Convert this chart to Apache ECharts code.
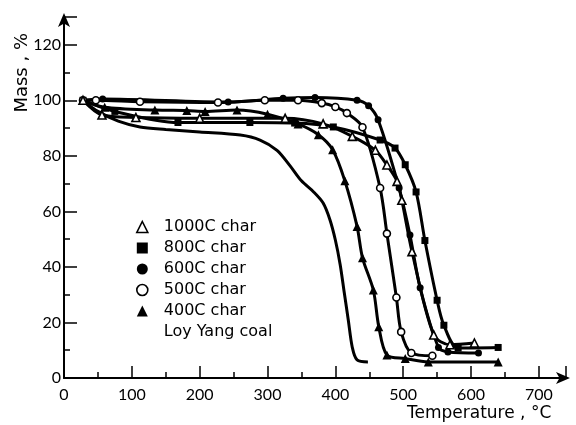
<!DOCTYPE html>
<html>
<head>
<meta charset="utf-8">
<script src="https://cdn.jsdelivr.net/npm/echarts@6/dist/echarts.min.js"></script>
<style>
html,body{margin:0;padding:0;background:#fff;}
#c{width:576px;height:425px;}
</style>
</head>
<body>
<div id="c"></div>
<script>
// Temperature (°C), Mass (%)
var coal = [[28,100],[50,96],[80,92.5],[112,90.4],[150,89.5],[200,88.6],[260,87.5],[289,85.7],[314,82],[333,76.5],[350,71],[368,67],[382,63],[392,57],[400,49.7],[407,41],[413,31],[419,21],[425,11],[432,6.5],[448,5.8]];
var char400 = [[28,100],[60,97.5],[134,96.5],[181,96.3],[208,96],[255,96.5],[300,95],[345,91.5],[375,87.6],[396,82.2],[414,71],[432,54.6],[440,43.3],[456,31.7],[464,18.5],[476,8.3],[503,7],[537,5.8],[640,5.8]];
var char500 = [[28,100],[47,100],[112,99.5],[227,99.2],[296,100],[345,100],[380,99],[400,97.6],[417,95.4],[440,90.3],[466,68.4],[476,52],[490,29],[497,16.6],[512,9],[543,8]];
var char600 = [[28,100],[57,100.5],[242,99.4],[323,100.7],[370,101],[432,100],[449,98],[463,93],[494,68.4],[510,51.5],[525,32.5],[552,11],[566,9.4],[611,9]];
var char800 = [[28,100],[75,96],[168,92],[274,92],[340,91.8],[397,90.4],[466,85.7],[488,82.8],[503,76.8],[519,67],[532,49.5],[550,28],[560,19],[581,10.8],[640,11]];
var char1000 = [[28,100],[56,94.7],[106,93.8],[200,93.5],[326,93.5],[382,91.5],[425,87],[459,82],[476,76.7],[491,70.8],[498,64],[513,45.5],[545,15.5],[569,12],[605,12.6]];
var legendNames = ['1000C char','800C char','600C char','500C char','400C char','Loy Yang coal'];
var xTicks = [0,100,200,300,400,500,600,700];
var yTicks = [0,20,40,60,80,100,120];

var FONT = 'Lato';
var TFONT = 'DejaVu Sans';
var chart = echarts.init(document.getElementById('c'));
function lineSeries(name, data, symbol, size, filled){
  return {
    name: name, type: 'line', data: data,
    smooth: 0.3,
    symbol: symbol, symbolSize: size, showAllSymbol: true,
    lineStyle: {color:'#000', width: 3},
    itemStyle: {color: filled ? '#000' : '#fff', borderColor:'#000', borderWidth: filled ? 0 : 1.6},
    emphasis: {disabled: true},
    animation: false, z: filled ? 3 : 4
  };
}
var option = {
  backgroundColor: '#fff',
  animation: false,
  grid: {left: 64, right: 10, top: 17, bottom: 47, containLabel: false},
  xAxis: {
    type: 'value', min: 0, max: 740, interval: 100,
    axisLine: {show: true, lineStyle: {color:'#000', width: 2}, symbol: ['none','arrow'], symbolSize: [9,14], symbolOffset: [0,4]},
    axisTick: {show: true, inside: true, length: 12, lineStyle: {color:'#000', width: 1.5}},
    minorTick: {show: true, splitNumber: 2, length: 6, lineStyle: {color:'#000', width: 1.5}},
    axisLabel: {color:'#000', fontFamily: FONT, fontSize: 16, margin: 9, showMaxLabel: false,
      formatter: function(v){ return xTicks.indexOf(v) >= 0 ? String(v) : ''; }},
    splitLine: {show: false}
  },
  yAxis: {
    type: 'value', min: 0, max: 130, interval: 20,
    axisLine: {show: true, lineStyle: {color:'#000', width: 2}, symbol: ['none','arrow'], symbolSize: [9,14], symbolOffset: [0,4]},
    axisTick: {show: true, inside: true, length: 13, lineStyle: {color:'#000', width: 1.5}},
    minorTick: {show: true, splitNumber: 2, length: 6, lineStyle: {color:'#000', width: 1.5}},
    axisLabel: {color:'#000', fontFamily: FONT, fontSize: 16, margin: 3, showMaxLabel: false,
      formatter: function(v){ return yTicks.indexOf(v) >= 0 ? String(v) : ''; }},
    splitLine: {show: false}
  },
  legend: {
    orient: 'vertical', left: 131, top: 213, itemWidth: 11, itemHeight: 11, itemGap: 3,
    selectedMode: false,
    textStyle: {color:'#000', fontFamily: TFONT, fontSize: 16, lineHeight: 18, padding: [0,0,0,11]},
    data: [
      {name: legendNames[0], icon: 'triangle', itemStyle: {color:'#fff', borderColor:'#000', borderWidth:1.6}},
      {name: legendNames[1], icon: 'rect', itemStyle: {color:'#000', borderWidth:0}},
      {name: legendNames[2], icon: 'circle', itemStyle: {color:'#000', borderWidth:0}},
      {name: legendNames[3], icon: 'circle', itemStyle: {color:'#fff', borderColor:'#000', borderWidth:1.6}},
      {name: legendNames[4], icon: 'triangle', itemStyle: {color:'#000', borderWidth:0}},
      {name: legendNames[5], icon: 'none'}
    ]
  },
  graphic: [
    {type:'text', left: 13, top: 33, rotation: Math.PI/2,
     style: {text: 'Mass , %', fill:'#000', font: '18px "' + TFONT + '"'}},
    {type:'text', left: 407, top: 405,
     style: {text: 'Temperature , °C', fill:'#000', font: '17px "' + TFONT + '"'}}
  ],
  series: [
    lineSeries(legendNames[5], coal, 'none', 0, true),
    lineSeries(legendNames[4], char400, 'triangle', 9, true),
    lineSeries(legendNames[3], char500, 'circle', 7, false),
    lineSeries(legendNames[2], char600, 'circle', 7, true),
    lineSeries(legendNames[1], char800, 'rect', 7, true),
    lineSeries(legendNames[0], char1000, 'triangle', 8, false)
  ]
};
chart.setOption(option);
</script>
</body>
</html>
